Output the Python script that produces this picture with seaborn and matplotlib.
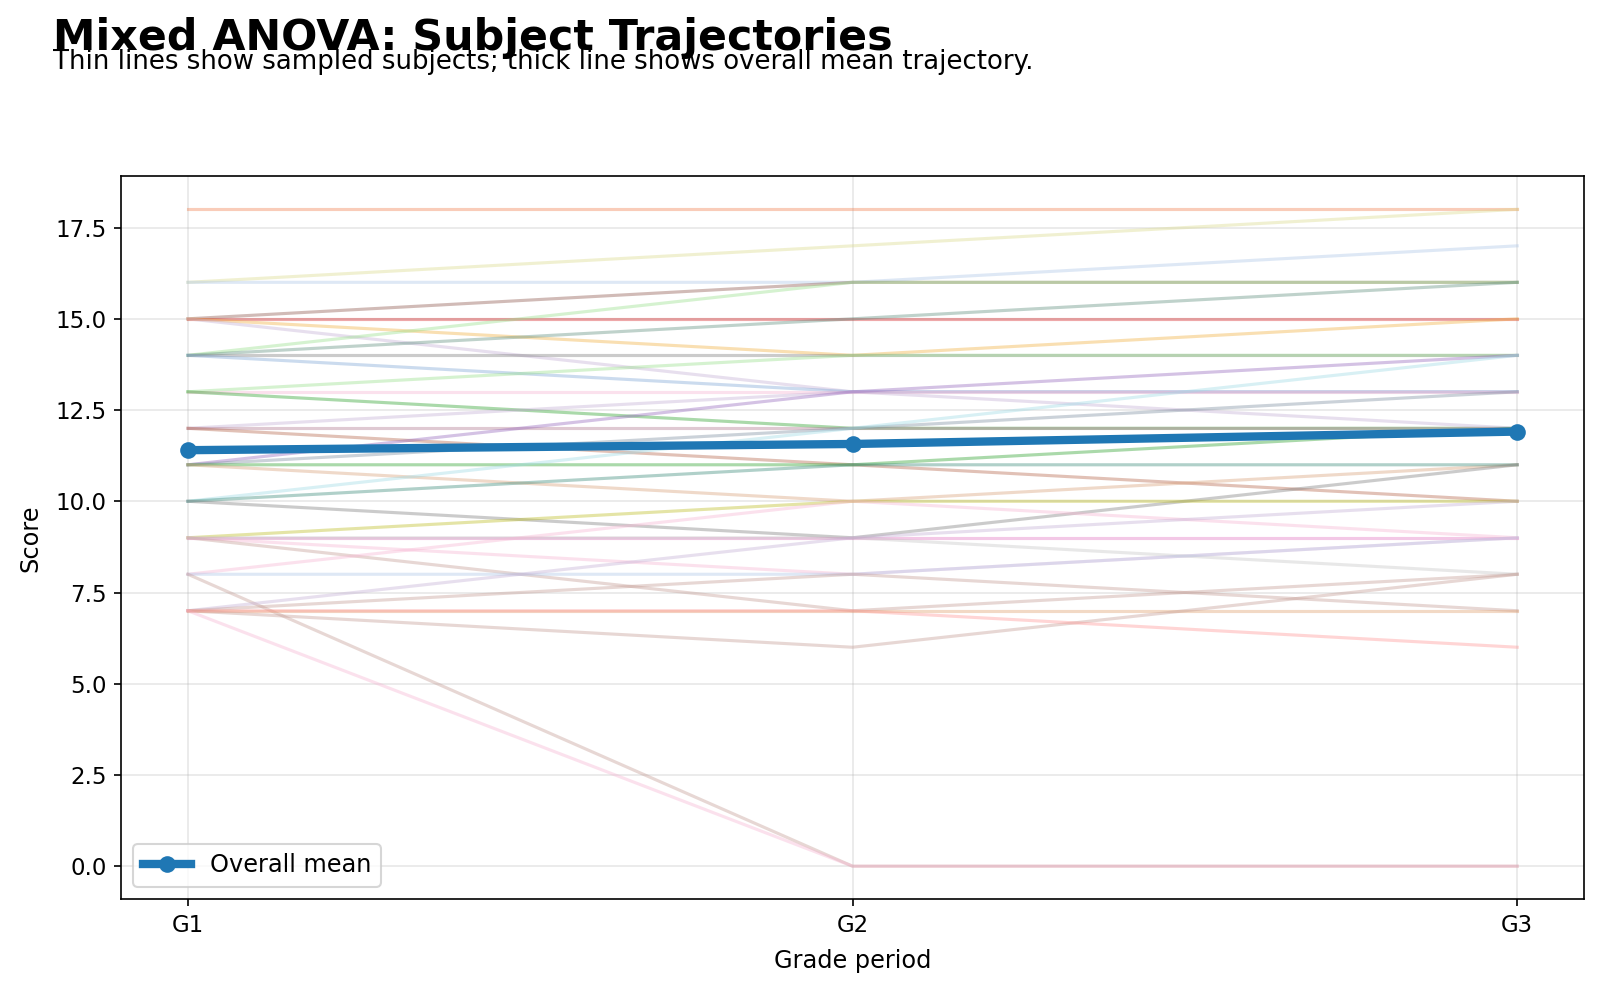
import matplotlib
matplotlib.use("Agg")
import matplotlib.pyplot as plt
import seaborn as sns
import pandas as pd

# ---- data ----
periods = ["G1", "G2", "G3"]
subjects = [f"S{i:02d}" for i in range(1, 39)]
g1 = [18, 16, 16, 15, 15, 15, 15, 14, 14, 14, 14, 13, 13, 13, 12, 12, 12, 11, 11,
      11, 11, 10, 10, 10, 9, 9, 9, 9, 9, 8, 8, 8, 7, 7, 7, 7, 7, 7]
g2 = [18, 17, 16, 16, 15, 14, 13, 16, 15, 14, 13, 14, 13, 12, 13, 12, 11, 13, 12,
      11, 10, 12, 11, 9, 10, 9, 8, 7, 9, 10, 8, 0, 9, 8, 7, 6, 0, 7]
g3 = [18, 18, 17, 16, 15, 15, 13, 16, 16, 14, 13, 14, 13, 12, 12, 12, 10, 14, 13,
      12, 11, 14, 11, 11, 10, 9, 9, 8, 8, 9, 9, 0, 10, 7, 7, 8, 0, 6]
mean_scores = [11.40, 11.57, 11.91]

# ---- styles ----
line_colors = ["#f08050", "#dbdb8d", "#aec7e8", "#8c564b", "#d62728", "#f0b040",
               "#c5b0d5", "#98df8a", "#5f8f7f", "#7f7f7f", "#7fa6d6", "#98df8a",
               "#f7b6d2", "#2ca02c", "#c5b0d5", "#b07a90", "#b5654a", "#9467bd",
               "#7f8fa0", "#2ca02c", "#d9a07a", "#9edae5", "#3a8a7a", "#7f7f7f",
               "#bcbd22", "#e377c2", "#f7b6d2", "#c49c94", "#c7c7c7", "#f7b6d2",
               "#aec7e8", "#c49c94", "#c5b0d5", "#c49c94", "#e0a070", "#c49c94",
               "#f7b6d2", "#ff9896"]

rows = []
for s, a, b, c in zip(subjects, g1, g2, g3):
    for p, v in zip(periods, (a, b, c)):
        rows.append({"subject": s, "period": p, "score": v})
df = pd.DataFrame(rows)
mean_df = pd.DataFrame({"period": periods, "score": mean_scores})

plt.rcParams["font.family"] = ["DejaVu Sans"]
fig = plt.figure(figsize=(1600 / 150, 991 / 150), dpi=150)
ax = fig.add_axes([0.0759, 0.0928, 0.9898 - 0.0759, 0.8219 - 0.0928])

sns.lineplot(data=df, x="period", y="score", hue="subject",
             palette=dict(zip(subjects, line_colors)), alpha=0.4,
             linewidth=1.5, legend=False, ax=ax, sort=False)
sns.lineplot(data=mean_df, x="period", y="score", color="#1f77b4",
             linewidth=4, marker="o", markersize=8, markeredgewidth=0,
             label="Overall mean", ax=ax, sort=False)

ax.grid(True, alpha=0.3)
ax.set_xlabel("Grade period", fontsize=11.5, labelpad=6)
ax.set_ylabel("Score", fontsize=11.5, labelpad=6.5)
ax.tick_params(labelsize=11)
ax.legend(loc="lower left", fontsize=11.5)

fig.text(0.033, 0.9500, "Mixed ANOVA: Subject Trajectories", fontsize=20.5,
         fontweight="bold", va="baseline", ha="left")
fig.text(0.033, 0.9300,
         "Thin lines show sampled subjects; thick line shows overall mean trajectory.",
         fontsize=12.5, va="baseline", ha="left")

fig.savefig("out.png", dpi=150)
